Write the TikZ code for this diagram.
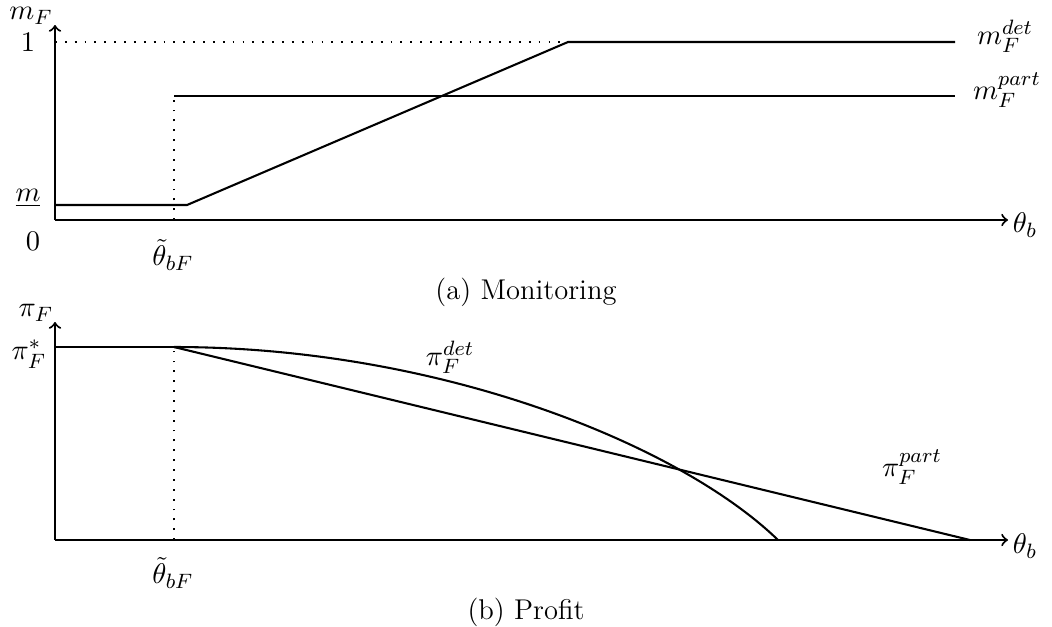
\documentclass[tikz,border=0pt]{standalone}
\begin{document}
\begin{tikzpicture}[x=0.385pt,y=-0.385pt,line width=0.8pt,
	every node/.style={font=\fontsize{11}{13}\selectfont},
	guide/.style={dash pattern=on 0.7pt off 3.1pt}]
	\useasboundingbox (0,0) rectangle (1052,626);
	% (a) monitoring
	\coordinate (o1) at (55,220);
	\coordinate (xa1) at (1008,220);
	\coordinate (ya1) at (55,25);
	\coordinate (one) at (55,42);
	\coordinate (d1) at (55,205);
	\coordinate (d2) at (187,205);
	\coordinate (d3) at (568,42);
	\coordinate (d4) at (955,42);
	\coordinate (p0) at (174,220);
	\coordinate (p1) at (174,96);
	\coordinate (p2) at (955,96);
	\node (mF) at (31,16) {$m_F$};
	\node (n1) at (28,42) {$1$};
	\node (mlow) at (28,198) {$\underline{m}$};
	\node (n0) at (33,241) {$0$};
	\node (th1) at (173,255) {$\tilde\theta_{bF}$};
	\node (thb1) at (1025,225) {$\theta_b$};
	\node (mdet) at (1005,36) {$m_F^{det}$};
	\node (mpart) at (1007,90) {$m_F^{part}$};
	\node (capa) at (526,292) {(a) Monitoring};
	 \draw[->] (o1) -- (xa1);
	 \draw[->] (o1) -- (ya1);
	 \draw[guide] (one) -- (d3);
	 \draw (d1) -- (d2) -- (d3) -- (d4);
	 \draw[guide] (p0) -- (p1);
	 \draw (p1) -- (p2);
	% (b) profit
	\coordinate (o2) at (55,540);
	\coordinate (xa2) at (1008,540);
	\coordinate (ya2) at (55,322);
	\coordinate (s0) at (55,347);
	\coordinate (s1) at (174,347);
	\coordinate (q0) at (174,540);
	\coordinate (e1) at (778,540);
	\coordinate (e2) at (970,540);
	\node (piF) at (36,313) {$\pi_F$};
	\node (pistar) at (29,354) {$\pi_F^*$};
	\node (th2) at (173,573) {$\tilde\theta_{bF}$};
	\node (thb2) at (1025,546) {$\theta_b$};
	\node (pidet) at (450,357) {$\pi_F^{det}$};
	\node (pipart) at (912,467) {$\pi_F^{part}$};
	\node (capb) at (526,612) {(b) Profit};
	 \draw[->] (o2) -- (xa2);
	 \draw[->] (o2) -- (ya2);
	 \draw (s0) -- (s1);
	 \draw[guide] (q0) -- (s1);
	 \draw (s1) .. controls (440,347) and (680,445) .. (e1);
	 \draw (s1) -- (e2);
\end{tikzpicture}
\end{document}
